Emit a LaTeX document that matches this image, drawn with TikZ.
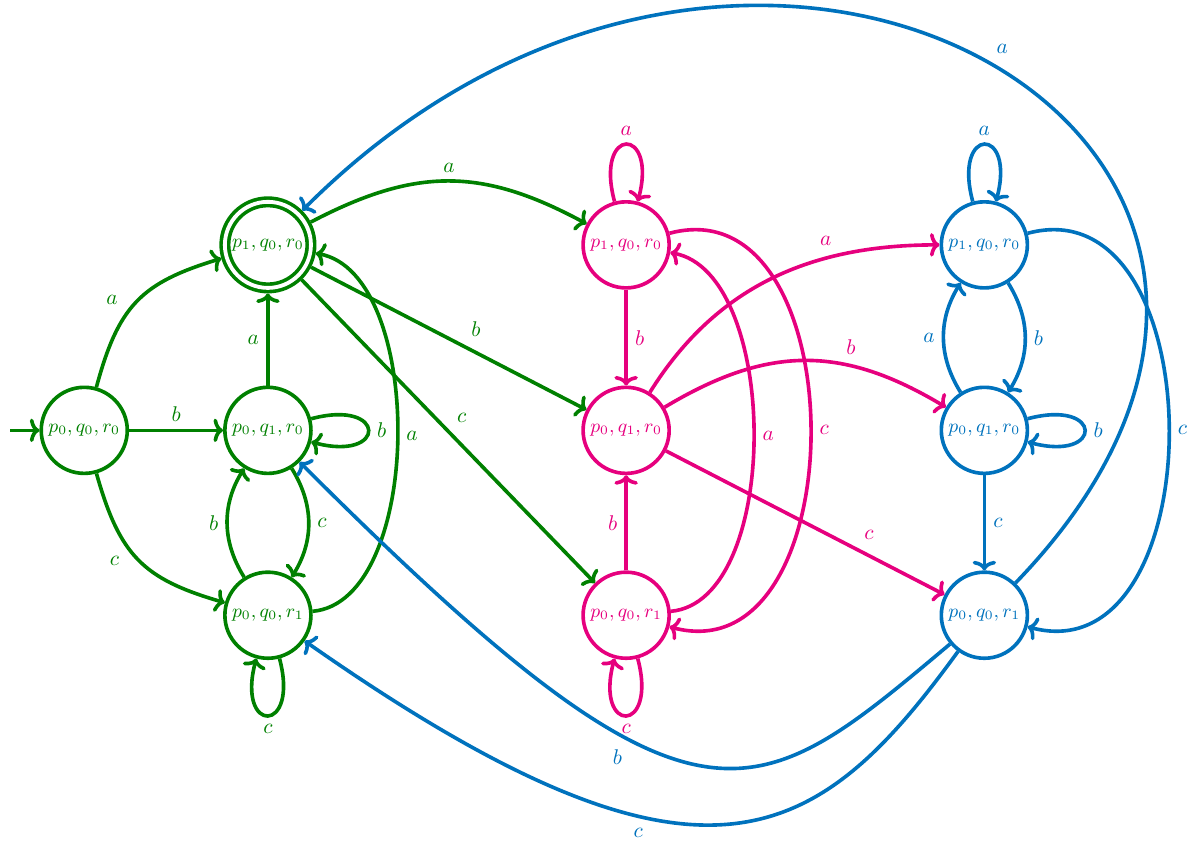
\documentclass[tikz,border=0pt]{standalone}
\usepackage{amsmath}
\usepackage{tikz}
\usetikzlibrary{arrows.meta, positioning}
\definecolor{StateGreen}{HTML}{008000}
\definecolor{StatePink}{HTML}{E6007E}
\definecolor{StateBlue}{HTML}{0072BD}

\begin{document}
\begin{tikzpicture}[
    >={To[length=4.5pt, width=11pt]},
    state/.style={circle, draw, line width=1.7pt, minimum size=1.42cm, inner sep=0pt, font=\small},
    gstate/.style={state, draw=StateGreen, text=StateGreen},
    pstate/.style={state, draw=StatePink, text=StatePink},
    bstate/.style={state, draw=StateBlue, text=StateBlue},
    accept/.style={double, double distance=1.8pt, outer sep=2.6pt},
    trans/.style={->, line width=1.7pt},
    gtrans/.style={trans, StateGreen},
    ptrans/.style={trans, StatePink},
    btrans/.style={trans, StateBlue},
    every loop/.style={min distance=1.3cm},
    auto
]
\useasboundingbox (0,0) rectangle (19.6,13.96);

% Green copy
\node[gstate] (g0) at (1.39, 6.86) {$p_0,q_0,r_0$};
\node[gstate, accept] (g1) at (4.42, 9.92) {$p_1,q_0,r_0$};
\node[gstate] (g2) at (4.42, 6.86) {$p_0,q_1,r_0$};
\node[gstate] (g3) at (4.42, 3.81) {$p_0,q_0,r_1$};
% Pink copy
\node[pstate] (m1) at (10.33, 9.92) {$p_1,q_0,r_0$};
\node[pstate] (m2) at (10.33, 6.86) {$p_0,q_1,r_0$};
\node[pstate] (m3) at (10.33, 3.81) {$p_0,q_0,r_1$};
% Blue copy
\node[bstate] (b1) at (16.24, 9.92) {$p_1,q_0,r_0$};
\node[bstate] (b2) at (16.24, 6.86) {$p_0,q_1,r_0$};
\node[bstate] (b3) at (16.24, 3.81) {$p_0,q_0,r_1$};
\coordinate (start) at (0.17, 6.86);

% Green transitions
\draw[gtrans] (start) -- (g0);
\draw[gtrans] (g0) to[bend left=29, looseness=1.2] node[pos=0.4] {$a$} (g1);
\draw[gtrans] (g0) -- node {$b$} (g2);
\draw[gtrans] (g0) to[bend right=29, looseness=1.2] node[pos=0.4, swap] {$c$} (g3);
\draw[gtrans] (g2) -- node {$a$} (g1);
\draw[gtrans] (g2) to[loop right] node {$b$} (g2);
\draw[gtrans] (g2) to[bend left=32] node {$c$} (g3);
\draw[gtrans] (g3) to[bend left=32] node {$b$} (g2);
\draw[gtrans] (g3) to[loop below] node {$c$} (g3);
\draw[gtrans] (g3) to[out=5, in=-10, looseness=0.8] node[swap] {$a$} (g1);
\draw[gtrans] (g1) to[bend left=28, looseness=1.1] node {$a$} (m1);
\draw[gtrans] (g1) -- node[pos=0.55] {$b$} (m2);
\draw[gtrans] (g1) -- node {$c$} (m3);

% Pink transitions
\draw[ptrans] (m1) to[loop above] node {$a$} (m1);
\draw[ptrans] (m1) -- node {$b$} (m2);
\draw[ptrans] (m1) to[out=15, in=-15, looseness=1.27] node {$c$} (m3);
\draw[ptrans] (m3) -- node {$b$} (m2);
\draw[ptrans] (m3) to[loop below] node {$c$} (m3);
\draw[ptrans] (m3) to[out=5, in=-10, looseness=0.8] node[swap] {$a$} (m1);
\draw[ptrans] (m2) to[out=58, in=180] node[pos=0.72] {$a$} (b1);
\draw[ptrans] (m2) to[bend left=31, looseness=1.1] node[pos=0.62] {$b$} (b2);
\draw[ptrans] (m2) -- node[pos=0.68] {$c$} (b3);

% Blue transitions
\draw[btrans] (b1) to[loop above] node {$a$} (b1);
\draw[btrans] (b1) to[bend left=32] node {$b$} (b2);
\draw[btrans] (b2) to[bend left=32] node {$a$} (b1);
\draw[btrans] (b2) to[loop right] node {$b$} (b2);
\draw[btrans] (b2) -- node {$c$} (b3);
\draw[btrans] (b1) to[out=15, in=-15, looseness=1.27] node {$c$} (b3);
\draw[btrans] (b3) to[out=46, in=45, out distance=9.9cm, in distance=10.73cm] node[pos=0.5, swap] {$a$} (g1);
\draw[btrans] (b3) to[out=220, in=-45, out distance=4.3cm, in distance=9.3cm] node[pos=0.62] {$b$} (g2);
\draw[btrans] (b3) to[out=234, in=-35, out distance=4.0cm, in distance=8.0cm] node[pos=0.62] {$c$} (g3);
\end{tikzpicture}
\end{document}
